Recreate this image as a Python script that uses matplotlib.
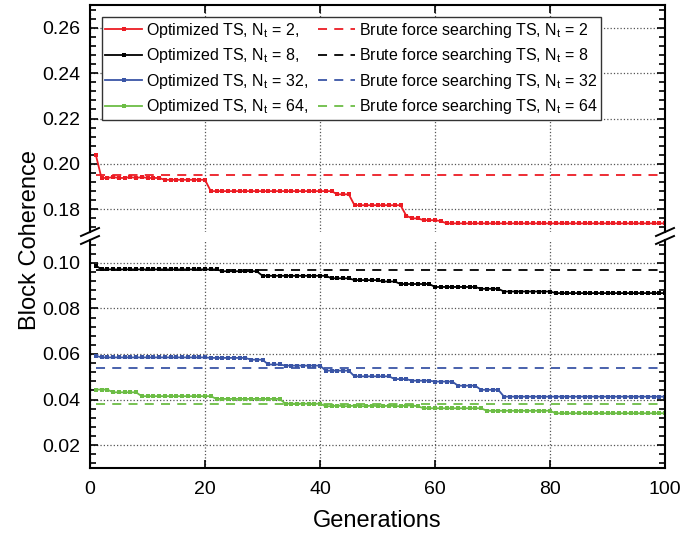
import numpy as np
import matplotlib.pyplot as plt
from matplotlib.lines import Line2D
from matplotlib.ticker import MultipleLocator, FormatStrFormatter

plt.rcParams['font.family'] = ['Liberation Sans', 'DejaVu Sans']
plt.rcParams['mathtext.default'] = 'regular'

####### data #######

gens = np.arange(1, 101)

# step levels and how many generations each level lasts
red_levels = [0.2041, 0.1938, 0.1942, 0.1938, 0.1942, 0.1938, 0.1942, 0.1938, 0.1930,
              0.1880, 0.1866, 0.1818, 0.1772, 0.1760, 0.1752, 0.1748, 0.1738]
red_runs = [1, 2, 1, 2, 1, 1, 1, 3, 8, 22, 3, 9, 1, 2, 3, 1, 39]

black_levels = [0.0988, 0.0971, 0.0963, 0.0943, 0.0932, 0.0924, 0.0918, 0.0907,
                0.0894, 0.0886, 0.0874, 0.0867]
black_runs = [1, 21, 7, 12, 4, 5, 3, 6, 8, 4, 9, 20]

blue_levels = [0.0593, 0.0585, 0.0583, 0.0575, 0.0554, 0.0549, 0.0527, 0.0502,
               0.0490, 0.0483, 0.0479, 0.0461, 0.0443, 0.0413]
blue_runs = [1, 19, 7, 3, 3, 7, 5, 7, 3, 4, 4, 4, 4, 29]

green_levels = [0.0444, 0.0432, 0.0415, 0.0403, 0.0382, 0.0371, 0.0374, 0.0371, 0.0374,
                0.0371, 0.0374, 0.0371, 0.0374, 0.0371, 0.0374, 0.0371, 0.0362, 0.0351, 0.0340]
green_runs = [3, 5, 13, 12, 7, 2, 1, 2, 1, 2, 1, 2, 1, 2, 2, 1, 11, 12, 20]

# brute force searching results (flat)
brute = [0.1951, 0.0967, 0.0540, 0.0380]

nt_values = [2, 8, 32, 64]
colors = ['#EC1C24', '#000000', '#3A55A6', '#6CBD45']

opt = [np.repeat(red_levels, red_runs), np.repeat(black_levels, black_runs),
       np.repeat(blue_levels, blue_runs), np.repeat(green_levels, green_runs)]

####### figure #######

W, H = 697, 533
fig = plt.figure(figsize=(W / 100, H / 100), dpi=100)

left, right = 90, 665
top_y0, top_y1 = 5, 232       # pixel rows of the upper panel
bot_y0, bot_y1 = 240, 468     # pixel rows of the lower panel

ax_top = fig.add_axes([left / W, 1 - top_y1 / H, (right - left) / W, (top_y1 - top_y0) / H])
ax_bot = fig.add_axes([left / W, 1 - bot_y1 / H, (right - left) / W, (bot_y1 - bot_y0) / H])

for ax in (ax_top, ax_bot):
    for i in range(4):
        ax.plot(gens, opt[i], color=colors[i], lw=1.3, marker='s', ms=3, mew=0,
                label='Optimized TS, N$_t$ = %d,' % nt_values[i])
    for i in range(4):
        ax.plot([gens[0], gens[-1]], [brute[i], brute[i]], color=colors[i], lw=1.3,
                ls=(0, (5, 4)), label='Brute force searching TS, N$_t$ = %d' % nt_values[i])
    ax.set_xlim(0, 100)
    ax.xaxis.set_major_locator(MultipleLocator(20))
    ax.yaxis.set_major_locator(MultipleLocator(0.02))
    ax.yaxis.set_minor_locator(MultipleLocator(0.004))
    ax.yaxis.set_major_formatter(FormatStrFormatter('%.2f'))
    ax.grid(True, which='major', ls=':', color='#555555', lw=0.9)
    for s in ax.spines.values():
        s.set_linewidth(1.5)
    ax.tick_params(axis='y', which='both', direction='in', left=True, right=True,
                   labelsize=14, pad=7, width=1.2)
    ax.tick_params(axis='y', which='major', length=6)
    ax.tick_params(axis='y', which='minor', length=4)

ax_top.set_ylim(0.17, 0.27)
ax_bot.set_ylim(0.01, 0.11)

ax_top.spines['bottom'].set_visible(False)
ax_bot.spines['top'].set_visible(False)
ax_top.tick_params(axis='x', which='both', direction='in', top=True, bottom=False,
                   labelbottom=False, length=6, width=1.2)
ax_bot.tick_params(axis='x', which='both', direction='in', top=False, bottom=True,
                   labelsize=14, pad=9, length=6, width=1.2)

# axis break marks
for xb in (left, right):
    for yb in (top_y1, bot_y0):
        fig.add_artist(Line2D([(xb - 9) / W, (xb + 9) / W],
                              [1 - (yb + 4) / H, 1 - (yb - 4) / H],
                              transform=fig.transFigure, color='black', lw=1.4))

fig.text(30 / W, 1 - 240 / H, 'Block Coherence', rotation=90, ha='center', va='center', fontsize=17)
fig.text((left + right) / 2 / W, 1 - 521 / H, 'Generations', ha='center', va='center', fontsize=17)

handles, labels = ax_top.get_legend_handles_labels()
leg = ax_top.legend(handles, labels, ncol=2, loc='upper left', bbox_to_anchor=(0.02, 0.947),
                    borderaxespad=0, fontsize=11.5, fancybox=False, edgecolor='#333333',
                    framealpha=1, labelspacing=0.4, handlelength=2.3, handletextpad=0.25,
                    columnspacing=0.6, borderpad=0.25)
leg.get_frame().set_linewidth(1.0)

fig.savefig('out.png', dpi=100)
